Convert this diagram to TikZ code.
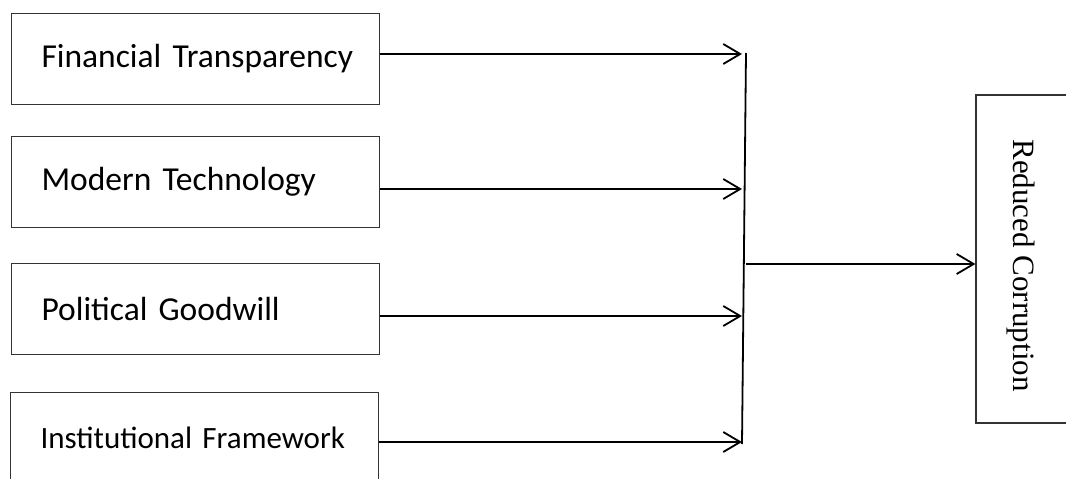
\documentclass[tikz,border=0pt]{standalone}
\usepackage{fontspec}
\setmainfont{Carlito}
\newfontfamily\seriffont{Liberation Serif}
\usetikzlibrary{arrows.meta,positioning}

\begin{document}
\begin{tikzpicture}[x=1pt,y=-1pt,
factor/.style={draw=black!80,line width=1.1pt,anchor=north west,minimum height=91pt,text width=338pt,inner xsep=15pt,align=left,execute at begin node={\hspace*{15pt}},font=\fontsize{33.5}{40}\selectfont},
outcome/.style={draw=black!80,line width=1.1pt,minimum width=110pt,minimum height=328pt},
arr/.style={-{Straight Barb[length=17pt,width=20pt]},line width=1.8pt}]
\useasboundingbox[fill=white](0,0)rectangle(1066,479);
\node[factor](fin)at(11,13){Financial Transparency};
\node[factor](tech)at(11,136){Modern Technology};
\node[factor](pol)at(11,263){Political Goodwill};
\node[factor,font=\fontsize{31}{38}\selectfont](inst)at(10,392){Institutional Framework};
\node[outcome](reduced)at(1031,259){};
\node[rotate=-90,font=\seriffont\fontsize{31}{38}\selectfont](reducedtext)at(1021,265.5){Reduced Corruption};
% joining bar
\coordinate(bartop)at(746,53);\coordinate(barbot)at(742,444);
\coordinate(j1)at(742,54);\coordinate(j2)at(742,189);\coordinate(j3)at(742,316);\coordinate(j4)at(742,442);
\coordinate(jout)at(746,264);
\draw[line width=1.8pt](bartop)--(barbot);
\draw[arr](fin.east|-j1)--(j1);\draw[arr](tech.east|-j2)--(j2);
\draw[arr](pol.east|-j3)--(j3);\draw[arr](inst.east|-j4)--(j4);
\draw[arr](jout)--(reduced.west|-jout);
\end{tikzpicture}
\end{document}
